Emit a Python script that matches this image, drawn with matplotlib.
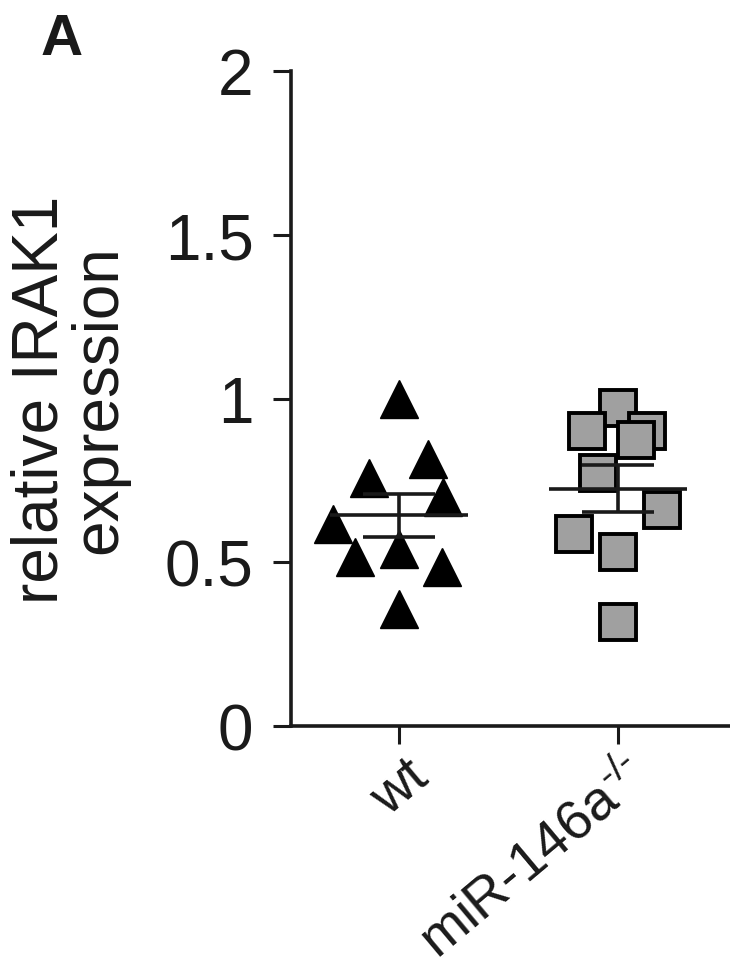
import matplotlib
matplotlib.use('Agg')
import matplotlib.pyplot as plt
import matplotlib.transforms as mtransforms
import numpy as np

plt.rcParams['font.family'] = ['Liberation Sans', 'DejaVu Sans']
plt.rcParams['mathtext.fontset'] = 'custom'
plt.rcParams['mathtext.rm'] = 'Liberation Sans'
plt.rcParams['mathtext.it'] = 'Liberation Sans'

# data
groups = ['wt', r'miR-146a$^{\text{-/-}}$']
wt_vals = [1.00, 0.816, 0.758, 0.70, 0.617, 0.516, 0.54, 0.486, 0.357]
wt_jitter = [0.0, 0.132, -0.137, 0.2, -0.30, -0.2, 0.0, 0.196, 0.0]
ko_vals = [0.972, 0.902, 0.902, 0.872, 0.774, 0.661, 0.587, 0.532, 0.318]
ko_jitter = [0.0, 0.13, -0.14, 0.08, -0.09, 0.2, -0.2, 0.0, 0.0]
yticks = [0, 0.5, 1, 1.5, 2]
yticklabels = ['0', '0.5', '1', '1.5', '2']

ink = '#1a1a1a'
fs = 46

fig = plt.figure(figsize=(7.3, 9.78), dpi=100)
ax = fig.add_axes([291/730, (978-727)/978, (730-291)/730, (727-72)/978])

ax.plot(np.array(wt_jitter) + 0, wt_vals, ls='none', marker='^', ms=27,
        color='black', mec='black', zorder=2)
for xj, v in zip(ko_jitter, ko_vals):
    ax.plot(1 + xj, v, ls='none', marker='s', ms=26.5, mfc='#a0a0a0',
            mec='black', mew=2.8, zorder=2)

# mean and SEM
for i, vals in enumerate([wt_vals, ko_vals]):
    vals = np.array(vals)
    m = vals.mean()
    sem = vals.std(ddof=1) / np.sqrt(len(vals))
    ax.hlines(m, i - 0.315, i + 0.315, color=ink, lw=2.6, zorder=3)
    ax.hlines([m - sem, m + sem], i - 0.165, i + 0.165, color=ink, lw=2.6, zorder=3)
    ax.vlines(i, m - sem, m + sem, color=ink, lw=2.6, zorder=3)

ax.set_xlim(-0.493, 1.511)
ax.set_ylim(0, 2)
ax.set_yticks(yticks)
ax.set_yticklabels(yticklabels, fontsize=fs, color=ink)
ax.set_xticks([0, 1])
ax.set_xticklabels(groups, fontsize=40, color=ink, rotation=40,
                   ha='right', va='top', rotation_mode='anchor')
ax.tick_params(direction='out', length=13, width=2.2, color=ink, pad=14)
ax.tick_params(axis='x', pad=4)
shift = mtransforms.ScaledTranslation(6/100, 0, fig.dpi_scale_trans)
for lab in ax.get_xticklabels():
    lab.set_transform(lab.get_transform() + shift)
for s in ['top', 'right']:
    ax.spines[s].set_visible(False)
for s in ['left', 'bottom']:
    ax.spines[s].set_linewidth(2.6)
    ax.spines[s].set_color(ink)

fig.text(70/730, 1 - 400/978, 'relative IRAK1\nexpression', rotation=90,
         ha='center', va='center', multialignment='center', fontsize=fs,
         color=ink, linespacing=0.98)
fig.text(62/730, 1 - 40/978, 'A', ha='center', va='center', fontsize=42,
         fontweight='bold', color=ink)

fig.savefig('out.png', dpi=100)
